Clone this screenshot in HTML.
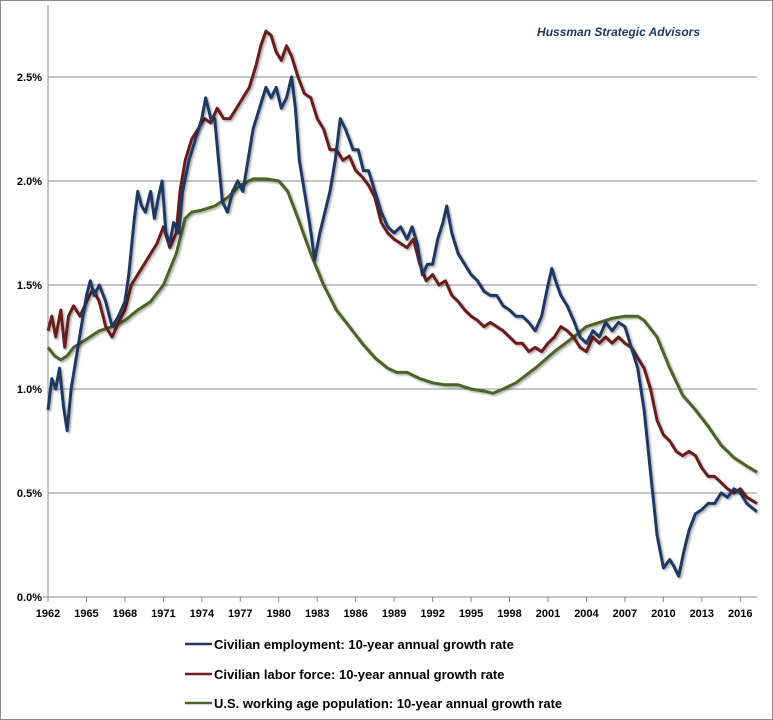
<!DOCTYPE html>
<html><head><meta charset="utf-8"><style>
body{margin:0;background:#fff;}
svg{display:block;font-family:"Liberation Sans",sans-serif;}
</style></head><body>
<svg id="chart" width="773" height="720" viewBox="0 0 773 720">
<defs><filter id="sh" x="-5%" y="-5%" width="110%" height="110%"><feDropShadow dx="1.5" dy="1.5" stdDeviation="1" flood-color="#000" flood-opacity="0.35"/></filter></defs>
<rect x="0.5" y="0.5" width="772" height="719" fill="#fff" stroke="#888"/>
<g id="grid"></g><g id="axes"></g><g id="lines"></g>
<text x="700" y="36" text-anchor="end" font-size="12" font-style="italic" font-weight="bold" fill="#1f3864">Hussman Strategic Advisors</text>
<g font-size="13" font-weight="bold" fill="#000">
<line x1="185" y1="644" x2="212" y2="644" stroke="#1f3864" stroke-width="2.5"/><text x="214" y="649">Civilian employment: 10-year annual growth rate</text>
<line x1="185" y1="674" x2="212" y2="674" stroke="#6b1f1f" stroke-width="2.5"/><text x="214" y="679">Civilian labor force: 10-year annual growth rate</text>
<line x1="185" y1="703" x2="212" y2="703" stroke="#4f6228" stroke-width="2.5"/><text x="214" y="708">U.S. working age population: 10-year annual growth rate</text>
</g>
</svg>
<script>
const yTicks=[0,0.5,1.0,1.5,2.0,2.5];
const yTickLabels=["0.0%","0.5%","1.0%","1.5%","2.0%","2.5%"];
const xTicks=[1962,1965,1968,1971,1974,1977,1980,1983,1986,1989,1992,1995,1998,2001,2004,2007,2010,2013,2016];
const employment=[[1962,0.9],[1962.3,1.05],[1962.6,1.0],[1962.9,1.1],[1963.2,0.92],[1963.5,0.8],[1963.8,1.0],[1964.2,1.15],[1964.6,1.3],[1965,1.45],[1965.3,1.52],[1965.6,1.45],[1966,1.5],[1966.5,1.42],[1967,1.3],[1967.5,1.35],[1968,1.42],[1968.3,1.55],[1968.7,1.8],[1969,1.95],[1969.3,1.88],[1969.6,1.85],[1970,1.95],[1970.3,1.82],[1970.6,1.92],[1970.9,2.0],[1971.2,1.75],[1971.5,1.7],[1971.8,1.8],[1972.2,1.75],[1972.5,1.95],[1973,2.1],[1973.5,2.2],[1974,2.3],[1974.3,2.4],[1974.7,2.3],[1975,2.3],[1975.3,2.1],[1975.6,1.9],[1976,1.85],[1976.4,1.95],[1976.8,2.0],[1977.2,1.95],[1977.6,2.1],[1978,2.25],[1978.5,2.35],[1979,2.45],[1979.4,2.4],[1979.8,2.45],[1980.2,2.35],[1980.6,2.4],[1981,2.5],[1981.3,2.35],[1981.6,2.1],[1982,1.95],[1982.4,1.8],[1982.8,1.62],[1983.2,1.75],[1983.6,1.85],[1984,1.95],[1984.4,2.1],[1984.8,2.3],[1985.2,2.25],[1985.5,2.2],[1985.8,2.15],[1986.2,2.15],[1986.6,2.05],[1987,2.05],[1987.5,1.95],[1988,1.85],[1988.5,1.78],[1989,1.75],[1989.5,1.78],[1990,1.72],[1990.4,1.78],[1990.8,1.7],[1991.2,1.55],[1991.6,1.6],[1992,1.6],[1992.4,1.72],[1992.8,1.8],[1993.1,1.88],[1993.5,1.75],[1994,1.65],[1994.5,1.6],[1995,1.55],[1995.5,1.52],[1996,1.47],[1996.5,1.45],[1997,1.45],[1997.5,1.4],[1998,1.38],[1998.5,1.35],[1999,1.35],[1999.5,1.32],[2000,1.28],[2000.5,1.35],[2001,1.5],[2001.3,1.58],[2001.7,1.5],[2002,1.45],[2002.5,1.4],[2003,1.33],[2003.5,1.25],[2004,1.22],[2004.5,1.28],[2005,1.25],[2005.5,1.32],[2006,1.28],[2006.5,1.32],[2007,1.3],[2007.5,1.2],[2008,1.1],[2008.5,0.9],[2009,0.6],[2009.5,0.3],[2010,0.14],[2010.5,0.18],[2010.8,0.15],[2011.2,0.1],[2011.6,0.22],[2012,0.32],[2012.5,0.4],[2013,0.42],[2013.5,0.45],[2014,0.45],[2014.5,0.5],[2015,0.48],[2015.5,0.52],[2016,0.5],[2016.5,0.45],[2017.3,0.41]];
const laborForce=[[1962,1.28],[1962.3,1.35],[1962.6,1.25],[1963,1.38],[1963.3,1.2],[1963.6,1.35],[1964,1.4],[1964.5,1.35],[1965,1.42],[1965.5,1.48],[1966,1.42],[1966.5,1.3],[1967,1.25],[1967.5,1.32],[1968,1.38],[1968.5,1.5],[1969,1.55],[1969.5,1.6],[1970,1.65],[1970.5,1.7],[1971,1.78],[1971.5,1.68],[1972,1.75],[1972.3,1.95],[1972.7,2.1],[1973.2,2.2],[1973.7,2.25],[1974.2,2.3],[1974.7,2.28],[1975.2,2.35],[1975.7,2.3],[1976.2,2.3],[1976.7,2.35],[1977.2,2.4],[1977.7,2.45],[1978.2,2.55],[1978.6,2.65],[1979,2.72],[1979.4,2.7],[1979.8,2.62],[1980.2,2.58],[1980.6,2.65],[1981,2.6],[1981.5,2.5],[1982,2.42],[1982.5,2.4],[1983,2.3],[1983.5,2.25],[1984,2.15],[1984.5,2.15],[1985,2.1],[1985.5,2.12],[1986,2.05],[1986.5,2.02],[1987,1.98],[1987.5,1.92],[1988,1.8],[1988.5,1.75],[1989,1.72],[1989.5,1.7],[1990,1.68],[1990.5,1.72],[1991,1.6],[1991.5,1.52],[1992,1.55],[1992.5,1.5],[1993,1.52],[1993.5,1.45],[1994,1.42],[1994.5,1.38],[1995,1.35],[1995.5,1.33],[1996,1.3],[1996.5,1.32],[1997,1.3],[1997.5,1.28],[1998,1.25],[1998.5,1.22],[1999,1.22],[1999.5,1.18],[2000,1.2],[2000.5,1.18],[2001,1.22],[2001.5,1.25],[2002,1.3],[2002.5,1.28],[2003,1.25],[2003.5,1.2],[2004,1.18],[2004.5,1.25],[2005,1.22],[2005.5,1.25],[2006,1.22],[2006.5,1.25],[2007,1.22],[2007.5,1.2],[2008,1.15],[2008.5,1.1],[2009,1.0],[2009.5,0.85],[2010,0.78],[2010.5,0.75],[2011,0.7],[2011.5,0.68],[2012,0.7],[2012.5,0.68],[2013,0.62],[2013.5,0.58],[2014,0.58],[2014.5,0.55],[2015,0.52],[2015.5,0.5],[2016,0.52],[2016.5,0.48],[2017.3,0.45]];
const population=[[1962,1.2],[1962.5,1.16],[1963,1.14],[1963.5,1.16],[1964,1.2],[1965,1.24],[1966,1.28],[1967,1.3],[1968,1.33],[1969,1.38],[1970,1.42],[1971,1.5],[1972,1.65],[1972.7,1.82],[1973.2,1.85],[1974,1.86],[1975,1.88],[1976,1.92],[1977,1.98],[1978,2.01],[1979,2.01],[1980,2.0],[1980.7,1.95],[1981.5,1.82],[1982.5,1.65],[1983.5,1.5],[1984.5,1.38],[1985.5,1.3],[1986.5,1.22],[1987.5,1.15],[1988.5,1.1],[1989.2,1.08],[1990,1.08],[1991,1.05],[1992,1.03],[1993,1.02],[1994,1.02],[1995,1.0],[1996,0.99],[1996.7,0.98],[1997.5,1.0],[1998.5,1.03],[2000,1.1],[2001.5,1.18],[2003,1.25],[2004,1.3],[2005,1.32],[2006,1.34],[2007,1.35],[2008,1.35],[2008.5,1.33],[2009.5,1.25],[2010.5,1.1],[2011.5,0.97],[2012.5,0.9],[2013.5,0.82],[2014.5,0.73],[2015.5,0.67],[2016.5,0.63],[2017.3,0.6]];

const NS="http://www.w3.org/2000/svg";
const X0=48,X1=757,Y0=597;
function xs(t){return X0+(t-1962)*12.82;}
function ys(v){return Y0-v*208;}
function mk(tag,attrs,parent){const e=document.createElementNS(NS,tag);for(const k in attrs)e.setAttribute(k,attrs[k]);parent.appendChild(e);return e;}
const grid=document.getElementById('grid'),axes=document.getElementById('axes'),lines=document.getElementById('lines');
yTicks.forEach((v,i)=>{
  if(v>0){const g=mk('line',{x1:X0,x2:X1,y1:ys(v),y2:ys(v),stroke:'#8c8c8c','stroke-width':1},grid);
  
  }
  const t=mk('text',{x:X0-6,y:ys(v)+4,'text-anchor':'end','font-size':11,'font-weight':'bold'},axes);
  t.textContent=yTickLabels[i];
  
  
});
const ax=mk('line',{x1:X0,x2:X0,y1:5,y2:Y0+5,stroke:'#888'},axes);


const bx=mk('line',{x1:X0-5,x2:X1,y1:Y0,y2:Y0,stroke:'#888'},axes);


xTicks.forEach(yr=>{
  mk('line',{x1:xs(yr),x2:xs(yr),y1:Y0,y2:Y0+5,stroke:'#888'},axes);
  const t=mk('text',{x:xs(yr),y:Y0+20,'text-anchor':'middle','font-size':11,'font-weight':'bold'},axes);
  t.textContent=yr;
  
  
});
function draw(data,color,name){
  const p=mk('path',{d:data.map((d,i)=>(i?'L':'M')+xs(d[0]).toFixed(1)+' '+ys(d[1]).toFixed(1)).join(''),fill:'none',stroke:color,'stroke-width':3,'stroke-linejoin':'round',filter:'url(#sh)'},lines);
  
  
}
draw(population,'#4f6228','population-line');
draw(laborForce,'#6b1f1f','labor-force-line');
draw(employment,'#1f3864','employment-line');
</script>
</body></html>
